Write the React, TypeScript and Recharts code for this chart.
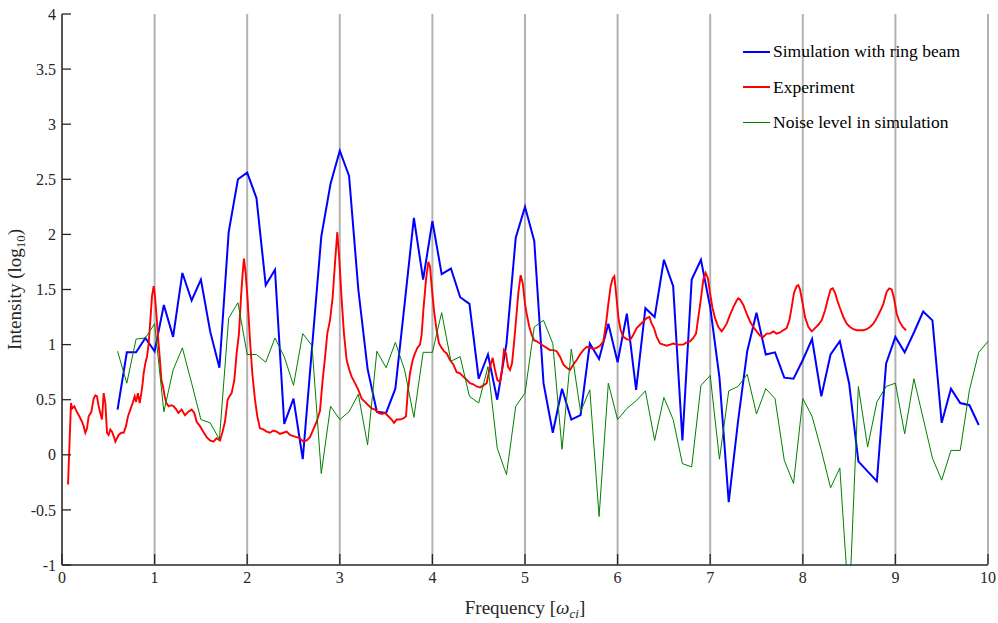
import React from "react"
import { LineChart, Line, XAxis, YAxis, CartesianGrid } from "recharts"

// frequency grid of the simulation runs [omega_ci]
const gridFreq = [
  0.6, 0.7, 0.8, 0.9, 1.0, 1.1, 1.2, 1.3, 1.4, 1.5,
  1.6, 1.7, 1.8, 1.9, 2.0, 2.1, 2.2, 2.3, 2.4, 2.5,
  2.6, 2.7, 2.8, 2.9, 3.0, 3.1, 3.2, 3.3, 3.4, 3.5,
  3.6, 3.7, 3.8, 3.9, 4.0, 4.1, 4.2, 4.3, 4.4, 4.5,
  4.6, 4.7, 4.8, 4.9, 5.0, 5.1, 5.2, 5.3, 5.4, 5.5,
  5.6, 5.7, 5.8, 5.9, 6.0, 6.1, 6.2, 6.3, 6.4, 6.5,
  6.6, 6.7, 6.8, 6.9, 7.0, 7.1, 7.2, 7.3, 7.4, 7.5,
  7.6, 7.7, 7.8, 7.9, 8.0, 8.1, 8.2, 8.3, 8.4, 8.5,
  8.6, 8.7, 8.8, 8.9, 9.0, 9.1, 9.2, 9.3, 9.4, 9.5,
  9.6, 9.7, 9.8, 9.9, 10.0,
]

// simulation with ring beam (0.6 .. 9.9)
const simIntensity = [
  0.41, 0.93, 0.93, 1.06, 0.94, 1.36, 1.07, 1.65, 1.40, 1.59,
  1.12, 0.79, 2.02, 2.50, 2.56, 2.33, 1.54, 1.68, 0.28, 0.51,
  -0.04, 0.97, 1.98, 2.46, 2.76, 2.53, 1.50, 0.78, 0.39, 0.38,
  0.60, 1.37, 2.15, 1.59, 2.12, 1.64, 1.69, 1.43, 1.37, 0.69,
  0.91, 0.50, 1.01, 1.97, 2.25, 1.94, 0.65, 0.20, 0.60, 0.32,
  0.36, 1.01, 0.87, 1.19, 0.84, 1.28, 0.59, 1.33, 1.25, 1.77,
  1.53, 0.13, 1.59, 1.77, 1.34, 0.70, -0.43, 0.30, 0.94, 1.29,
  0.91, 0.93, 0.70, 0.69, 0.86, 1.05, 0.53, 0.91, 1.03, 0.65,
  -0.06, -0.15, -0.24, 0.83, 1.07, 0.93, 1.11, 1.30, 1.22, 0.29,
  0.60, 0.47, 0.45, 0.27,
]

// noise level in simulation (0.6 .. 10.0)
const noiseIntensity = [
  0.94, 0.65, 1.05, 1.06, 1.19, 0.39, 0.77, 0.97, 0.65, 0.32,
  0.29, 0.14, 1.24, 1.38, 0.91, 0.91, 0.84, 1.06, 0.89, 0.63,
  1.10, 0.99, -0.17, 0.44, 0.32, 0.39, 0.55, 0.09, 0.94, 0.79,
  1.02, 0.77, 0.34, 0.93, 0.93, 1.29, 0.85, 0.89, 0.53, 0.47,
  0.80, 0.06, -0.18, 0.44, 0.56, 1.16, 1.22, 1.01, 0.05, 0.96,
  0.39, 0.59, -0.56, 0.65, 0.32, 0.42, 0.49, 0.58, 0.13, 0.52,
  0.32, -0.08, -0.11, 0.63, 0.72, -0.04, 0.58, 0.62, 0.73, 0.37,
  0.60, 0.51, -0.05, -0.26, 0.51, 0.35, 0.04, -0.30, -0.12, -1.40,
  0.62, 0.07, 0.48, 0.62, 0.65, 0.19, 0.69, 0.33, -0.03, -0.23,
  0.04, 0.04, 0.59, 0.93, 1.03,
]

// experiment
const expFreq = [
  0.065, 0.097, 0.108, 0.133, 0.16, 0.187, 0.216, 0.234, 0.252, 0.27,
  0.288, 0.317, 0.342, 0.36, 0.378, 0.396, 0.414, 0.432, 0.45, 0.468,
  0.486, 0.504, 0.522, 0.54, 0.558, 0.576, 0.594, 0.612, 0.64, 0.666,
  0.691, 0.713, 0.738, 0.763, 0.785, 0.8, 0.82, 0.839, 0.857, 0.871,
  0.882, 0.9, 0.918, 0.936, 0.954, 0.972, 0.99, 1.004, 1.019, 1.037,
  1.055, 1.073, 1.091, 1.109, 1.127, 1.152, 1.18, 1.206, 1.235, 1.256,
  1.292, 1.328, 1.364, 1.4, 1.429, 1.454, 1.49, 1.526, 1.562, 1.598,
  1.634, 1.67, 1.706, 1.731, 1.76, 1.789, 1.807, 1.832, 1.861, 1.886,
  1.911, 1.933, 1.951, 1.965, 1.983, 2.005, 2.03, 2.055, 2.084, 2.109,
  2.138, 2.174, 2.21, 2.246, 2.282, 2.318, 2.354, 2.39, 2.426, 2.462,
  2.498, 2.534, 2.57, 2.606, 2.642, 2.678, 2.714, 2.75, 2.786, 2.815,
  2.84, 2.865, 2.894, 2.923, 2.948, 2.973, 2.995, 3.02, 3.045, 3.074,
  3.103, 3.128, 3.164, 3.2, 3.236, 3.272, 3.308, 3.344, 3.38, 3.416,
  3.452, 3.488, 3.524, 3.56, 3.585, 3.614, 3.65, 3.686, 3.715, 3.733,
  3.758, 3.787, 3.812, 3.837, 3.866, 3.884, 3.902, 3.931, 3.956, 3.974,
  3.992, 4.017, 4.046, 4.071, 4.1, 4.125, 4.154, 4.19, 4.226, 4.262,
  4.298, 4.334, 4.37, 4.406, 4.442, 4.478, 4.514, 4.55, 4.586, 4.622,
  4.651, 4.676, 4.701, 4.73, 4.752, 4.773, 4.795, 4.816, 4.838, 4.86,
  4.881, 4.903, 4.928, 4.953, 4.975, 5.0, 5.018, 5.047, 5.072, 5.097,
  5.126, 5.162, 5.198, 5.234, 5.27, 5.306, 5.342, 5.378, 5.414, 5.45,
  5.486, 5.522, 5.558, 5.594, 5.63, 5.666, 5.702, 5.738, 5.774, 5.81,
  5.846, 5.875, 5.9, 5.925, 5.947, 5.965, 5.983, 6.008, 6.033, 6.062,
  6.098, 6.134, 6.17, 6.206, 6.242, 6.278, 6.314, 6.343, 6.368, 6.393,
  6.422, 6.458, 6.494, 6.53, 6.566, 6.602, 6.638, 6.674, 6.71, 6.746,
  6.782, 6.818, 6.847, 6.872, 6.897, 6.926, 6.951, 6.976, 6.998, 7.023,
  7.052, 7.088, 7.124, 7.149, 7.178, 7.214, 7.25, 7.286, 7.304, 7.322,
  7.358, 7.394, 7.43, 7.466, 7.502, 7.538, 7.574, 7.61, 7.646, 7.682,
  7.718, 7.754, 7.79, 7.826, 7.855, 7.88, 7.905, 7.934, 7.952, 7.97,
  7.999, 8.024, 8.06, 8.096, 8.132, 8.168, 8.204, 8.24, 8.276, 8.301,
  8.323, 8.348, 8.373, 8.402, 8.438, 8.474, 8.51, 8.546, 8.582, 8.618,
  8.654, 8.69, 8.726, 8.762, 8.798, 8.834, 8.87, 8.906, 8.934, 8.96,
  8.985, 9.014, 9.043, 9.079, 9.115,
]

const expIntensity = [
  -0.27, 0.47, 0.42, 0.44, 0.39, 0.35, 0.3, 0.26, 0.2, 0.24,
  0.35, 0.39, 0.51, 0.54, 0.53, 0.44, 0.38, 0.32, 0.56, 0.47,
  0.2, 0.18, 0.23, 0.21, 0.17, 0.12, 0.15, 0.18, 0.2, 0.2,
  0.26, 0.35, 0.41, 0.47, 0.53, 0.48, 0.56, 0.47, 0.56, 0.65,
  0.74, 0.83, 0.89, 1.01, 1.22, 1.44, 1.53, 1.44, 1.28, 1.07,
  0.89, 0.68, 0.62, 0.53, 0.47, 0.44, 0.45, 0.44, 0.41, 0.38,
  0.41, 0.36, 0.39, 0.41, 0.38, 0.3, 0.26, 0.21, 0.16, 0.13,
  0.12, 0.15, 0.13, 0.2, 0.3, 0.5, 0.53, 0.56, 0.68, 0.92,
  1.1, 1.43, 1.65, 1.78, 1.65, 1.4, 1.04, 0.74, 0.5, 0.35,
  0.24, 0.23, 0.21, 0.2, 0.22, 0.21, 0.19, 0.2, 0.21, 0.18,
  0.17, 0.16, 0.15, 0.12, 0.13, 0.16, 0.23, 0.3, 0.4, 0.68,
  0.88, 1.1, 1.22, 1.43, 1.74, 2.02, 1.77, 1.41, 1.1, 0.86,
  0.77, 0.71, 0.65, 0.59, 0.51, 0.48, 0.45, 0.42, 0.41, 0.38,
  0.37, 0.38, 0.35, 0.32, 0.29, 0.32, 0.32, 0.33, 0.35, 0.56,
  0.74, 0.86, 0.92, 0.97, 1.0, 1.09, 1.31, 1.59, 1.75, 1.71,
  1.53, 1.31, 1.13, 1.01, 0.97, 0.94, 0.92, 0.86, 0.82, 0.75,
  0.74, 0.71, 0.68, 0.65, 0.64, 0.62, 0.61, 0.63, 0.65, 0.8,
  0.88, 0.77, 0.68, 0.66, 0.77, 0.95, 0.92, 0.8, 0.77, 0.83,
  1.01, 1.22, 1.47, 1.63, 1.56, 1.37, 1.28, 1.16, 1.09, 1.04,
  1.03, 1.01, 0.99, 0.97, 0.95, 0.95, 0.94, 0.89, 0.82, 0.79,
  0.77, 0.82, 0.86, 0.91, 0.95, 0.98, 0.97, 0.96, 0.97, 0.99,
  1.03, 1.19, 1.37, 1.53, 1.6, 1.62, 1.47, 1.25, 1.13, 1.07,
  1.05, 1.04, 1.09, 1.15, 1.18, 1.21, 1.24, 1.25, 1.19, 1.15,
  1.07, 1.01, 1.0, 0.99, 1.0, 1.01, 1.0, 1.0, 1.0, 1.02,
  1.03, 1.06, 1.1, 1.25, 1.4, 1.59, 1.65, 1.6, 1.47, 1.34,
  1.24, 1.16, 1.12, 1.15, 1.19, 1.27, 1.34, 1.4, 1.42, 1.41,
  1.36, 1.28, 1.21, 1.16, 1.12, 1.08, 1.07, 1.1, 1.1, 1.12,
  1.1, 1.11, 1.13, 1.15, 1.22, 1.34, 1.47, 1.53, 1.54, 1.5,
  1.37, 1.25, 1.16, 1.12, 1.15, 1.18, 1.22, 1.31, 1.43, 1.5,
  1.51, 1.47, 1.4, 1.33, 1.25, 1.19, 1.16, 1.14, 1.13, 1.13,
  1.13, 1.14, 1.16, 1.19, 1.24, 1.3, 1.37, 1.48, 1.51, 1.5,
  1.42, 1.28, 1.21, 1.16, 1.13,
]

const xTicks = [0, 1, 2, 3, 4, 5, 6, 7, 8, 9, 10]
const yTicks = [-1, -0.5, 0, 0.5, 1, 1.5, 2, 2.5, 3, 3.5, 4]

const simData = simIntensity.map((v, i) => ({ f: gridFreq[i], v }))
const noiseData = noiseIntensity.map((v, i) => ({ f: gridFreq[i], v }))
const expData = expIntensity.map((v, i) => ({ f: expFreq[i], v }))

const FONT = '"Liberation Serif", "DejaVu Serif", serif'
const INK = "#262626"

const legendItems = [
  { name: "Simulation with ring beam", color: "#0000ff", width: 2 },
  { name: "Experiment", color: "#ff0000", width: 2 },
  { name: "Noise level in simulation", color: "#008000", width: 1 },
]

function XTick({ x, y, payload }: any) {
  return (
    <g>
      <line x1={x} x2={x} y1={y - 8} y2={y - 18} stroke={INK} strokeWidth={1.3} />
      <text x={x} y={y} dy="0.71em" textAnchor="middle" fontSize={16} fill={INK} fontFamily={FONT}>
        {payload.value}
      </text>
    </g>
  )
}

function YTick({ x, y, payload }: any) {
  return (
    <g>
      <line x1={x + 6} x2={x + 15} y1={y} y2={y} stroke={INK} strokeWidth={1.3} />
      <text x={x} y={y} dy="0.355em" textAnchor="end" fontSize={16} fill={INK} fontFamily={FONT}>
        {payload.value}
      </text>
    </g>
  )
}

function LegendBox() {
  return (
    <div
      style={{
        position: "absolute",
        left: 743,
        top: 34,
        fontFamily: FONT,
        fontSize: 17.5,
        color: "#000",
      }}
    >
      {legendItems.map((it) => (
        <div key={it.name} style={{ display: "flex", alignItems: "center", height: 35.5 }}>
          <div style={{ width: 27, height: it.width, background: it.color, marginRight: 3 }} />
          <span>{it.name}</span>
        </div>
      ))}
    </div>
  )
}

export default function App() {
  return (
    <div style={{ position: "absolute", left: 0, top: 0, width: 998, height: 623, background: "#fff" }}>
      <LineChart width={998} height={623} margin={{ top: 14, right: 10, bottom: 0, left: 0 }}>
        <CartesianGrid vertical horizontal={false} stroke="#b3b3b3" strokeWidth={2} />
        <XAxis
          type="number"
          dataKey="f"
          domain={[0, 10]}
          ticks={xTicks}
          height={58}
          tickSize={0}
          tickMargin={7}
          tick={<XTick />}
          stroke={INK}
          strokeWidth={1.3}
          allowDuplicatedCategory={false}
          label={{
            content: ({ viewBox }: any) => (
              <text
                x={viewBox.x + viewBox.width / 2}
                y={viewBox.y + 49}
                textAnchor="middle"
                fontSize={19}
                fill={INK}
                fontFamily={FONT}
              >
                <tspan>Frequency [</tspan>
                <tspan fontStyle="italic">ω</tspan>
                <tspan fontStyle="italic" fontSize={13} dy={4}>ci</tspan>
                <tspan dy={-4}>]</tspan>
              </text>
            ),
          }}
        />
        <YAxis
          type="number"
          domain={[-1, 4]}
          ticks={yTicks}
          allowDataOverflow
          width={62}
          tickSize={0}
          tickMargin={6}
          tick={<YTick />}
          stroke={INK}
          strokeWidth={1.3}
          label={{
            content: ({ viewBox }: any) => {
              const cx = 21
              const cy = viewBox.y + viewBox.height / 2
              return (
                <text
                  x={cx}
                  y={cy}
                  transform={`rotate(-90, ${cx}, ${cy})`}
                  textAnchor="middle"
                  fontSize={19}
                  fill={INK}
                  fontFamily={FONT}
                >
                  <tspan>Intensity (log</tspan>
                  <tspan fontSize={13} dy={4}>10</tspan>
                  <tspan dy={-4}>)</tspan>
                </text>
              )
            },
          }}
        />
        <Line
          data={simData}
          dataKey="v"
          type="linear"
          stroke="#0000ff"
          strokeWidth={2}
          dot={false}
          isAnimationActive={false}
        />
        <Line
          data={expData}
          dataKey="v"
          type="linear"
          stroke="#ff0000"
          strokeWidth={1.9}
          dot={false}
          isAnimationActive={false}
        />
        <Line
          data={noiseData}
          dataKey="v"
          type="linear"
          stroke="#008000"
          strokeWidth={1}
          dot={false}
          isAnimationActive={false}
        />
      </LineChart>
      <LegendBox />
    </div>
  )
}
